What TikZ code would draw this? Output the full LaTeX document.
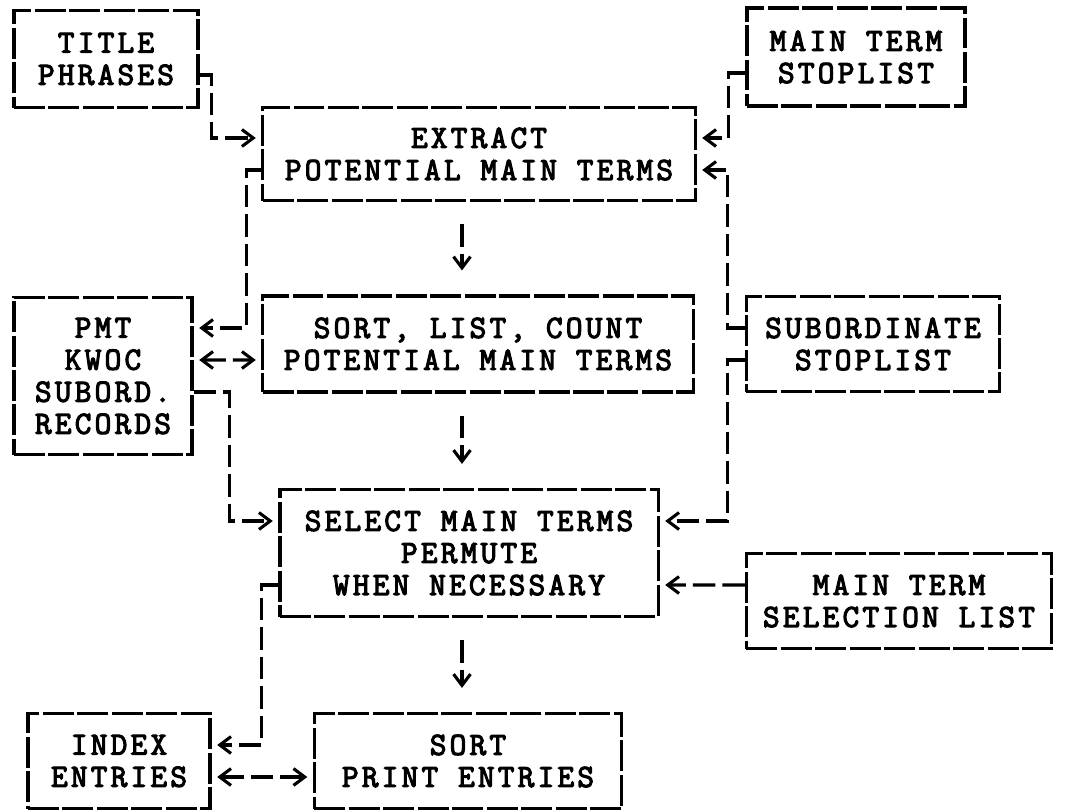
\documentclass[tikz,border=0pt]{standalone}
\usepackage{fontspec}
\setmonofont{Latin Modern Mono}[LetterSpace=10, FakeBold=3.5]
\usetikzlibrary{arrows.meta, calc}

\begin{document}
\begin{tikzpicture}[
        x=0.025cm, y=-0.025cm,
        line width=2.2pt,
        font=\ttfamily\fontsize{23pt}{22.8pt}\selectfont,
        box/.style={draw, dash pattern=on 22pt off 2.5pt, align=center, inner sep=0pt},
        flow/.style={dash pattern=on 16pt off 5pt, -{Straight Barb[length=8pt,width=12pt]}, shorten >=4pt},
        both/.style={flow, {Straight Barb[length=8pt,width=12pt]}-{Straight Barb[length=8pt,width=12pt]}, shorten <=4pt},
        vflow/.style={flow, shorten <=0.55cm, shorten >=0.6cm}
    ]
        \useasboundingbox (0,0) rectangle (1068,811);

        % files and steps
        \node[box, minimum width=4.6cm, minimum height=2.425cm] (title) at (106,59) {TITLE\\PHRASES};
        \node[box, minimum width=5.45cm, minimum height=2.45cm] (mtstop) at (856,57) {MAIN TERM\\STOPLIST};
        \node[box, minimum width=10.8cm, minimum height=2.325cm] (extract) at (479,154) {EXTRACT\\POTENTIAL MAIN TERMS};
        \node[box, minimum width=10.75cm, minimum height=2.4cm] (sortlist) at (478,344) {SORT, LIST, COUNT\\POTENTIAL MAIN TERMS};
        \node[box, minimum width=4.45cm, minimum height=3.925cm] (pmt) at (103,376) {PMT\\KWOC\\SUBORD.\\RECORDS};
        \node[box, minimum width=6.325cm, minimum height=2.375cm] (substop) at (873,344) {SUBORDINATE\\STOPLIST};
        \node[box, minimum width=9.45cm, minimum height=3.175cm] (select) at (469,553) {SELECT MAIN TERMS\\PERMUTE\\WHEN NECESSARY};
        \node[box, minimum width=7.625cm, minimum height=2.375cm] (mtsel) at (899,601) {MAIN TERM\\SELECTION LIST};
        \node[box, minimum width=4.55cm, minimum height=2.375cm] (index) at (119,761) {INDEX\\ENTRIES};
        \node[box, minimum width=7.675cm, minimum height=2.375cm] (sortprint) at (468,761) {SORT\\PRINT ENTRIES};

        % main line
        \coordinate (spine) at (462,0);
        \draw[vflow] (extract.south -| spine) -- (sortlist.north -| spine);
        \draw[vflow] (sortlist.south -| spine) -- (select.north -| spine);
        \draw[vflow] (select.south -| spine) -- (sortprint.north -| spine);

        % side connections
        \draw[flow] ([yshift=-0.4cm]title.east) -- ++(12,0) |- ([yshift=0.4cm]extract.west);
        \draw[flow] ([yshift=-0.4cm]mtstop.west) -- ++(-17,0) |- ([yshift=0.4cm]extract.east);
        \draw[flow] ([yshift=0.4cm]substop.west) -- ++(-17,0) |- ([yshift=-0.4cm]extract.east);
        \draw[flow] ([yshift=-0.4cm]substop.west) -- ++(-17,0) |- ([yshift=0.8cm]select.east);
        \draw[flow] ([yshift=-0.4cm]extract.west) -- ++(-15,0) |- ([yshift=1.2cm]pmt.east);
        \draw[both] ([yshift=0.4cm]pmt.east) -- ([yshift=-0.4cm]sortlist.west);
        \draw[flow] ([yshift=-0.4cm]pmt.east) -- ++(36,0) |- ([yshift=0.8cm]select.west);
        \draw[flow] ([yshift=0.4cm]mtsel.west) -- ([yshift=-0.8cm]select.east);
        \draw[flow] ([yshift=-0.8cm]select.west) -- ++(-17,0) |- ([yshift=0.4cm]index.east);
        \draw[both] ([yshift=-0.4cm]index.east) -- ([yshift=-0.4cm]sortprint.west);
    \end{tikzpicture}
\end{document}
